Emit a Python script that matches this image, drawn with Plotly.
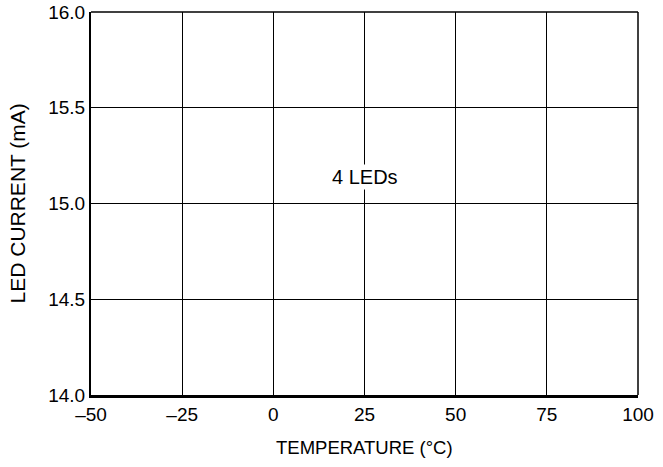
import plotly.graph_objects as go

# Axis ranges and tick values
x_ticks = [-50, -25, 0, 25, 50, 75, 100]
x_tick_labels = ["\u201350", "\u201325", "0", "25", "50", "75", "100"]
y_ticks = [14.0, 14.5, 15.0, 15.5, 16.0]
y_tick_labels = ["14.0", "14.5", "15.0", "15.5", "16.0"]

# Curve label
label_text = "4 LEDs"
label_x = 25
label_y = 15.14

x_title = "TEMPERATURE (\u00b0C)"
y_title = "LED CURRENT (mA)"

FONT = "Liberation Sans, Arial, sans-serif"

fig = go.Figure()
# invisible trace so the axes render with their ranges
fig.add_trace(go.Scatter(x=[x_ticks[0], x_ticks[-1]], y=[y_ticks[0], y_ticks[-1]],
                         mode="markers", marker=dict(opacity=0), hoverinfo="skip",
                         showlegend=False))

fig.add_annotation(x=label_x, y=label_y, text=label_text, showarrow=False,
                   font=dict(family=FONT, size=20, color="black"),
                   bgcolor="white", borderpad=1)

# axis titles
fig.add_annotation(xref="paper", yref="paper", x=0.5, y=-0.136, text=x_title,
                   showarrow=False, xanchor="center", yanchor="middle",
                   font=dict(family=FONT, size=18.5, color="black"))
fig.add_annotation(xref="paper", yref="paper", x=-0.1335, y=0.5, text=y_title,
                   showarrow=False, textangle=-90, xanchor="center", yanchor="middle",
                   font=dict(family=FONT, size=21, color="black"))

fig.update_xaxes(range=[x_ticks[0], x_ticks[-1]], tickvals=x_ticks, ticktext=x_tick_labels,
                 showgrid=True, gridcolor="black", gridwidth=1, zeroline=False,
                 showline=True, linecolor="black", linewidth=3, ticks="",
                 automargin=False,
                 tickfont=dict(family=FONT, size=19, color="black"))
fig.update_yaxes(range=[y_ticks[0], y_ticks[-1]], tickvals=y_ticks, ticktext=y_tick_labels,
                 showgrid=True, gridcolor="black", gridwidth=1, zeroline=False,
                 showline=True, linecolor="black", linewidth=2, ticks="",
                 automargin=False,
                 tickfont=dict(family=FONT, size=19, color="black"))

# top and right frame lines
fig.add_shape(type="line", xref="paper", yref="paper", x0=0, x1=1, y0=1, y1=1,
              line=dict(color="black", width=1.5))
fig.add_shape(type="line", xref="paper", yref="paper", x0=1, x1=1, y0=0, y1=1,
              line=dict(color="black", width=1.5))

fig.update_layout(width=663, height=467, margin=dict(l=91, r=25, t=12, b=72),
                  plot_bgcolor="white", paper_bgcolor="white")

fig.write_html("out.html")
